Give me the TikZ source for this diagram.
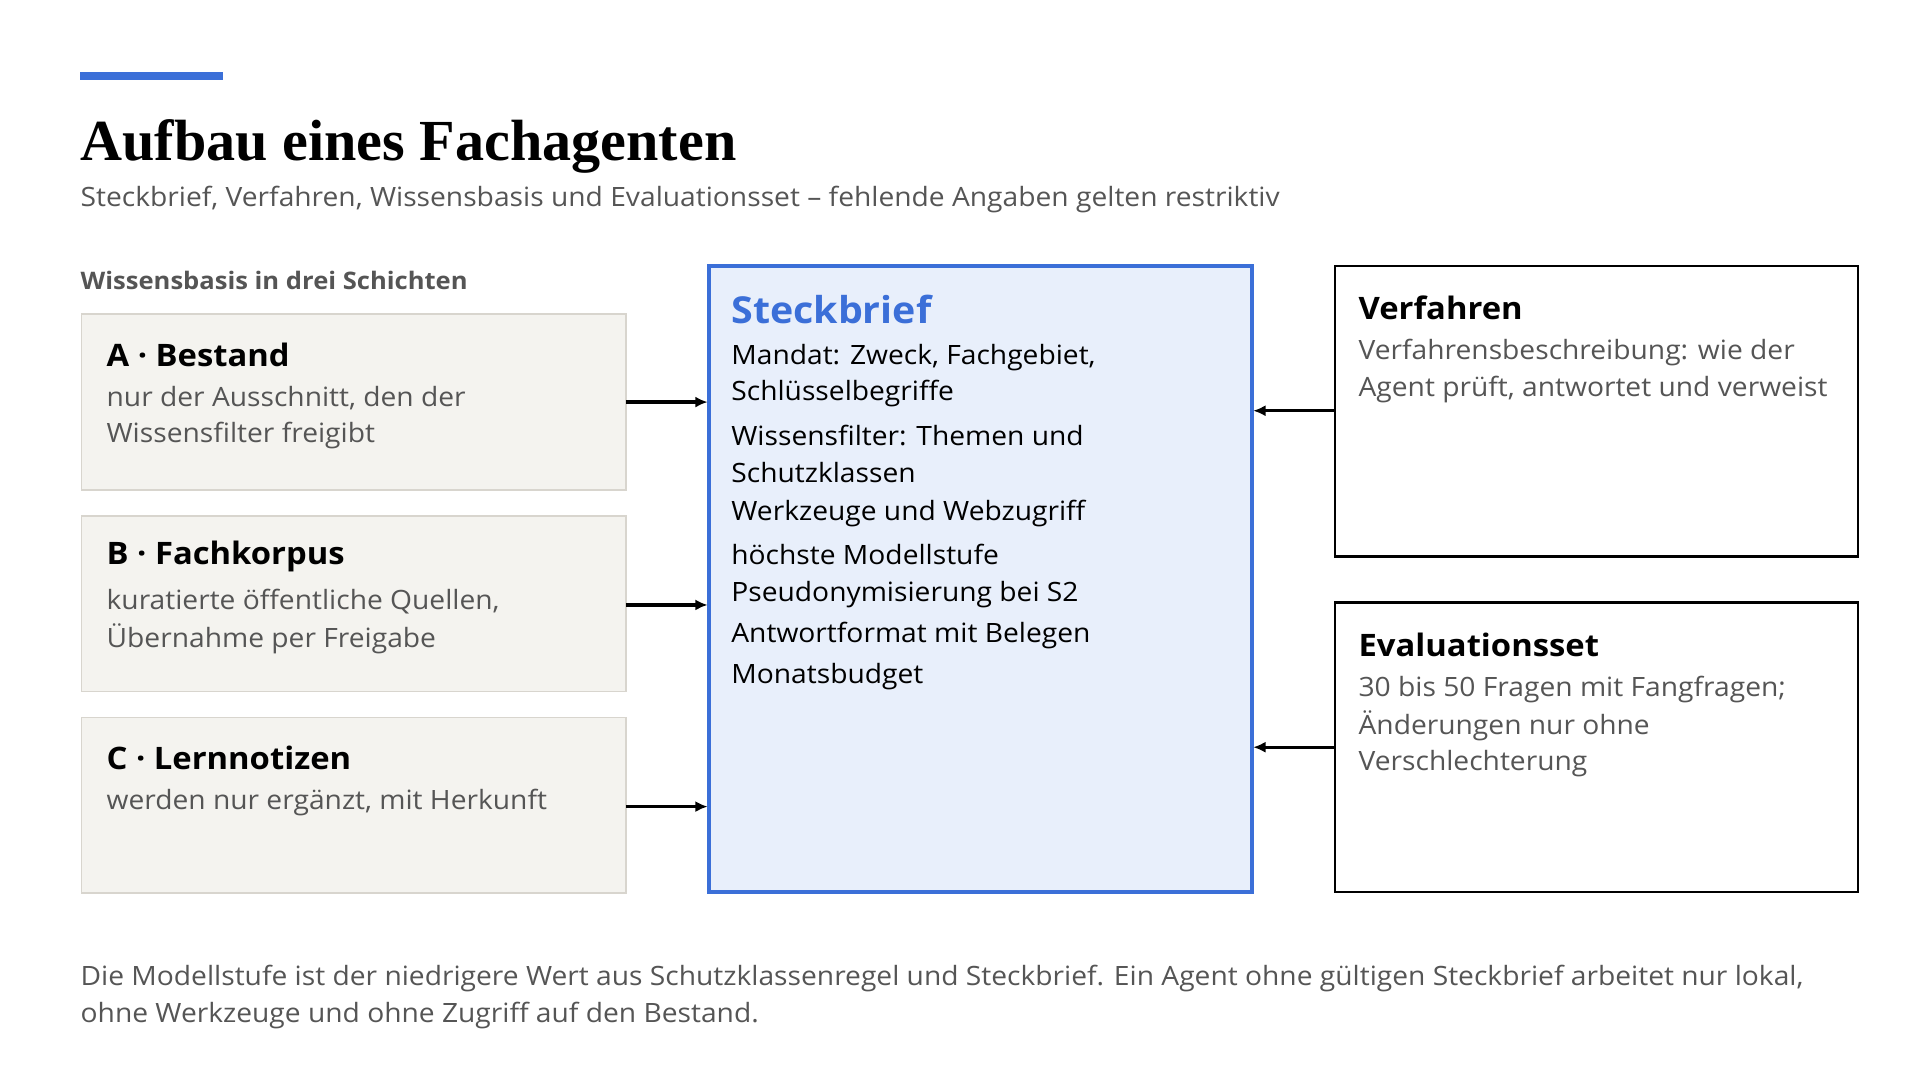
\documentclass[tikz,border=0pt]{standalone}
\usepackage{fontspec}
\setmainfont{Open Sans}[FakeStretch=1.06]
\newfontfamily\titlefont{Liberation Serif}
\usetikzlibrary{arrows.meta}
\definecolor{accent}{HTML}{3B6FD8}
\definecolor{graytext}{HTML}{555555}
\definecolor{leftfill}{HTML}{F4F3EF}
\definecolor{leftdraw}{HTML}{D8D5CE}
\definecolor{centerfill}{HTML}{E8EFFB}
\begin{document}
\begin{tikzpicture}[x=1pt,y=-1pt,
  txt/.style={anchor=west,inner sep=0pt,font=\fontsize{21.5}{26}\selectfont},
  gtxt/.style={txt,text=graytext},
  head/.style={anchor=west,inner sep=0pt,font=\fontsize{25}{30}\selectfont\bfseries},
  lbox/.style={fill=leftfill,draw=leftdraw,line width=1.2pt},
  rbox/.style={fill=white,draw=black,line width=2pt},
  arr/.style={-{Latex[length=10pt,width=9pt]},line width=2.6pt}]
\useasboundingbox (0,0) rectangle (1552,873);
\fill[accent] (65,58) rectangle (180,65);
\node[anchor=base west,inner sep=0pt,font=\fontsize{47}{52}\selectfont\titlefont\bfseries] (title) at (65,130) {Aufbau eines Fachagenten};
\node[gtxt] (sub) at (65,161) {Steckbrief, Verfahren, Wissensbasis und Evaluationsset -- fehlende Angaben gelten restriktiv};
\node[anchor=west,inner sep=0pt,text=graytext,font=\fontsize{19.5}{24}\selectfont\bfseries] (wb) at (65,227) {Wissensbasis in drei Schichten};
% left boxes
\draw[lbox] (66,254) rectangle (506,396);
\draw[lbox] (66,417) rectangle (506,559);
\draw[lbox] (66,580) rectangle (506,722);
\coordinate (a) at (506,325); \coordinate (b) at (506,489); \coordinate (c) at (506,652);
\node[head] (ah) at (86,287) {A · Bestand};
\node[gtxt] (a1) at (86,322) {nur der Ausschnitt, den der};
\node[gtxt] (a2) at (86,352) {Wissensfilter freigibt};
\node[head] (bh) at (86,450) {B · Fachkorpus};
\node[gtxt] (b1) at (86,486) {kuratierte öffentliche Quellen,};
\node[gtxt] (b2) at (86,516) {Übernahme per Freigabe};
\node[head] (ch) at (86,613) {C · Lernnotizen};
\node[gtxt] (c1) at (86,649) {werden nur ergänzt, mit Herkunft};
% center
\draw[fill=centerfill,draw=accent,line width=3pt] (573,215) rectangle (1012,721);
\coordinate (sa) at (572,325); \coordinate (sb) at (572,489); \coordinate (sc) at (572,652);
\coordinate (sv) at (1013,332); \coordinate (se) at (1013,604);
\node[anchor=west,inner sep=0pt,text=accent,font=\fontsize{30}{36}\selectfont\bfseries] (st) at (591,250) {Steckbrief};
\node[txt] (s1) at (591,289) {Mandat: Zweck, Fachgebiet,};
\node[txt] (s2) at (591,318) {Schlüsselbegriffe};
\node[txt] (s3) at (591,352) {Wissensfilter: Themen und};
\node[txt] (s4) at (591,382) {Schutzklassen};
\node[txt] (s5) at (591,415) {Werkzeuge und Webzugriff};
\node[txt] (s6) at (591,448) {höchste Modellstufe};
\node[txt] (s7) at (591,481) {Pseudonymisierung bei S2};
\node[txt] (s8) at (591,514) {Antwortformat mit Belegen};
\node[txt] (s9) at (591,547) {Monatsbudget};
% right
\draw[rbox] (1079,215) rectangle (1502,450);
\draw[rbox] (1079,487) rectangle (1502,721);
\coordinate (v) at (1079,332); \coordinate (e) at (1079,604);
\node[head] (vh) at (1098,249) {Verfahren};
\node[gtxt] (v1) at (1098,285) {Verfahrensbeschreibung: wie der};
\node[gtxt] (v2) at (1098,315) {Agent prüft, antwortet und verweist};
\node[head] (eh) at (1098,521) {Evaluationsset};
\node[gtxt] (e1) at (1098,557) {30 bis 50 Fragen mit Fangfragen;};
\node[gtxt] (e2) at (1098,587) {Änderungen nur ohne};
\node[gtxt] (e3) at (1098,617) {Verschlechterung};
% arrows
\draw[arr] (a) -- (sa);
\draw[arr] (b) -- (sb);
\draw[arr] (c) -- (sc);
\draw[arr] (v) -- (sv);
\draw[arr] (e) -- (se);
% footer
\node[gtxt] (f1) at (65,791) {Die Modellstufe ist der niedrigere Wert aus Schutzklassenregel und Steckbrief. Ein Agent ohne gültigen Steckbrief arbeitet nur lokal,};
\node[gtxt] (f2) at (65,821) {ohne Werkzeuge und ohne Zugriff auf den Bestand.};
\end{tikzpicture}
\end{document}
